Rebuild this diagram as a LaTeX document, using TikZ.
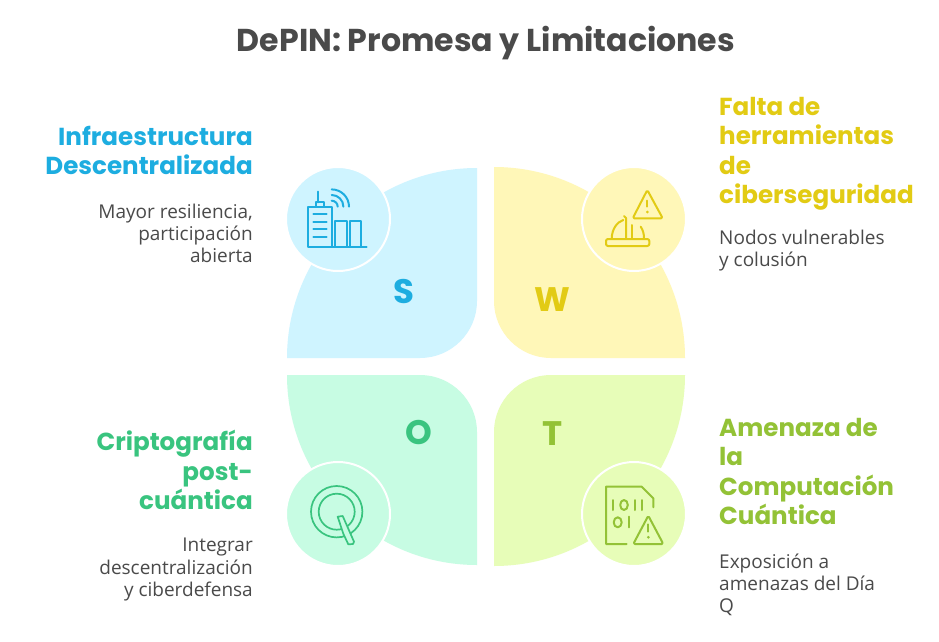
\documentclass[tikz,border=0pt]{standalone}
\usepackage{fontspec}
\setmainfont{Open Sans}
\newfontfamily\headfont{Poppins}
\usepackage{xcolor}
\usetikzlibrary{positioning}
\definecolor{swotblue}{RGB}{29,173,224}
\definecolor{swotyellow}{RGB}{226,203,20}
\definecolor{swotgreen}{RGB}{57,196,127}
\definecolor{swotlime}{RGB}{147,194,54}
\definecolor{paleblue}{RGB}{207,244,255}
\definecolor{paleyellow}{RGB}{255,247,184}
\definecolor{palegreen}{RGB}{199,252,227}
\definecolor{palelime}{RGB}{231,253,184}
\definecolor{bodygray}{RGB}{74,74,74}

\begin{document}
\begin{tikzpicture}[
    x=1pt, y=-1pt,
    iconcircle/.style={circle, draw=white, line width=2pt, minimum size=104pt, inner sep=0pt},
    heading/.style={inner sep=0pt, align=#1, font=\headfont\bfseries\fontsize{24.6}{29.5}\selectfont},
    bodytext/.style={inner sep=0pt, align=#1, text=bodygray, font=\fontsize{19}{22.4}\selectfont},
    swotletter/.style={inner sep=0pt, font=\headfont\bfseries\fontsize{34}{34}\selectfont},
    iconline/.style={line width=2pt, line cap=round, line join=round}
]
    \useasboundingbox (0,0) rectangle (939,642);
    \fill[white] (0,0) rectangle (939,642);

    \node[inner sep=0pt, text=bodygray, font=\headfont\bfseries\fontsize{31.6}{36}\selectfont] (title) at (486,43) {DePIN: Promesa y Limitaciones};

    \fill[paleblue] (287,358) arc[start angle=180, end angle=270, radius=190] -- (477,301) arc[start angle=0, end angle=90, radius=57] -- cycle;
    \fill[paleyellow] (685,358) arc[start angle=0, end angle=-90, radius=191] -- (494,301) arc[start angle=180, end angle=90, radius=57] -- cycle;
    \fill[palegreen] (287,375) arc[start angle=180, end angle=90, radius=190] -- (477,432) arc[start angle=0, end angle=-90, radius=57] -- cycle;
    \fill[palelime] (685,375) arc[start angle=0, end angle=90, radius=191] -- (494,432) arc[start angle=180, end angle=270, radius=57] -- cycle;

    \node[iconcircle, fill=paleblue] (scircle) at (338,219) {};
    \node[iconcircle, fill=paleyellow] (wcircle) at (634,219) {};
    \node[iconcircle, fill=palegreen] (ocircle) at (338,514) {};
    \node[iconcircle, fill=palelime] (tcircle) at (634,514) {};

    \node[swotletter, text=swotblue] (sletter) at (404,292) {S};
    \node[swotletter, text=swotyellow] (wletter) at (552,300) {W};
    \node[swotletter, text=swotgreen] (oletter) at (419,433) {O};
    \node[swotletter, text=swotlime] (tletter) at (553,434) {T};

    % building
    \begin{scope}[iconline, draw=swotblue]
        \draw (331.7,246.7) -- (308.3,246.7) -- (308.3,206.7) -- (331.7,206.7) -- (331.7,246.7);
        \foreach \ypos in {214.3,221.7,229.3,236.7}
            \draw (313.3,\ypos) -- (326.7,\ypos);
        \draw (315.7,206.7) -- (315.7,202.3) -- (324,202.3) -- (324,206.7);
        \draw (318.3,191.7) -- (318.3,202.3);
        \draw (335,246.7) -- (335,221) -- (346.7,221) -- (346.7,246.7);
        \draw (350,246.7) -- (350,221) -- (361,221) -- (361,246.7);
        \draw (331.7,246.7) -- (366.7,246.7);
        \foreach \arcrad in {6,11.7,17.3}
            \draw (331.7+\arcrad,206.7) arc[start angle=0, end angle=-90, radius=\arcrad];
    \end{scope}

    % helmet and warning
    \begin{scope}[iconline, draw=swotyellow]
        \draw[rounded corners=1.5pt] (647.3,190) -- (662.7,218.3) -- (632.7,218.3) -- cycle;
        \draw (647.3,200.7) -- (647.3,206.7);
        \fill[swotyellow] (647.3,212) circle[radius=1.5];
        \draw[rounded corners=2pt] (606,239) rectangle (649.3,246);
        \draw (611.7,238.3) .. controls (612,229) and (617,222) .. (623.3,220);
        \draw (626,238.3) -- (626,218) -- (624,216);
        \draw (631.7,225) -- (631.7,238.3);
        \draw (640.7,226.7) .. controls (643,230) and (644,234) .. (644,238.3);
    \end{scope}

    % Q
    \begin{scope}[line width=1.7pt, draw=swotgreen]
        \draw (336.7,511.7) circle[radius=25.7];
        \draw (336.7,511.7) circle[radius=18];
        \draw[fill=palegreen, line join=round] (337.7,516.7) -- (342.7,516) -- (354,541.7) -- (353,544) -- (348.3,544.3) -- (343.3,533.7) -- cycle;
    \end{scope}

    % binary file and warning
    \begin{scope}[iconline, draw=swotlime]
        \draw (626.7,544) -- (606,544) -- (606,486.7) -- (641.7,486.7) -- (653.3,498.3) -- (653.3,507.3);
        \draw (613.3,500) -- (613.3,510);
        \draw (624,505) ellipse[x radius=3.8, y radius=5];
        \draw (635,500) -- (635,510);
        \draw (641.7,500) -- (641.7,510);
        \draw (617.7,522.3) ellipse[x radius=4, y radius=5];
        \draw (629,516.7) -- (629,527.3);
        \draw[rounded corners=1.5pt] (648.3,515.7) -- (663.3,544) -- (633.3,544) -- cycle;
        \draw (648.3,524.3) -- (648.3,531.7);
        \fill[swotlime] (648.3,537.3) circle[radius=1.5];
    \end{scope}

    \node[heading=right, text=swotblue, anchor=north east] (infra) at (253,126) {Infraestructura\\Descentralizada};
    \node[bodytext=right, below left=28pt and 0pt of infra.south east] (infrabody) {Mayor resiliencia,\\participación\\abierta};

    \node[heading=left, text=swotyellow, anchor=north west] (falta) at (719,97) {Falta de\\herramientas\\de\\ciberseguridad};
    \node[bodytext=left, below right=19pt and 0pt of falta.south west] (faltabody) {Nodos vulnerables\\y colusión};

    \node[heading=right, text=swotgreen, anchor=north east] (cripto) at (253,430) {Criptografía\\post-\\cuántica};
    \node[bodytext=right, below left=28pt and 0pt of cripto.south east] (criptobody) {Integrar\\descentralización\\y ciberdefensa};

    \node[heading=left, text=swotlime, anchor=north west] (amenaza) at (719,418) {Amenaza de\\la\\Computación\\Cuántica};
    \node[bodytext=left, below right=28pt and 0pt of amenaza.south west] (amenazabody) {Exposición a\\amenazas del Día\\Q};
\end{tikzpicture}
\end{document}
